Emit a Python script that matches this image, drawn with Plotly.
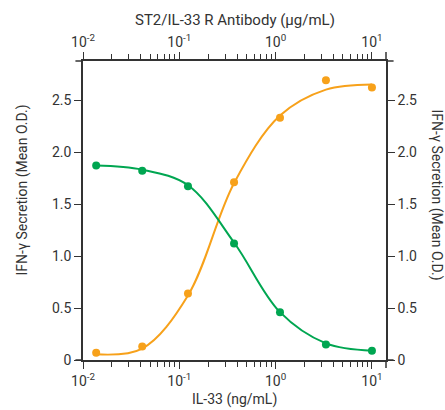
import plotly.graph_objects as go

# ---- data ----
conc = [0.0137, 0.0412, 0.123, 0.370, 1.11, 3.33, 10.0]
antibody_od = [1.87, 1.82, 1.67, 1.12, 0.46, 0.15, 0.09]   # green, top axis
il33_od = [0.07, 0.13, 0.64, 1.71, 2.33, 2.69, 2.62]       # orange, bottom axis
antibody_fit = [1.87, 1.83, 1.68, 1.13, 0.46, 0.16, 0.09]
il33_fit = [0.055, 0.11, 0.62, 1.70, 2.35, 2.60, 2.65]

decade_vals = [0.01, 0.1, 1, 10]
decade_text = ["10<sup>-2</sup>", "10<sup>-1</sup>", "10<sup>0</sup>", "10<sup>1</sup>"]
minor_vals = [m * d for d in [0.01, 0.1, 1, 10] for m in range(2, 10) if m * d < 14]
y_vals = [0, 0.5, 1.0, 1.5, 2.0, 2.5]
y_text = ["0", "0.5", "1.0", "1.5", "2.0", "2.5"]

GREEN = "#00A651"
ORANGE = "#F7A11A"
INK = "#333333"
FONT = "Roboto"

fig = go.Figure()
fig.add_trace(go.Scatter(x=conc, y=antibody_fit, mode="lines", line=dict(color=GREEN, width=2, shape="spline", smoothing=1.0),
                         xaxis="x2", yaxis="y", hoverinfo="skip"))
fig.add_trace(go.Scatter(x=conc, y=antibody_od, mode="markers", marker=dict(color=GREEN, size=8),
                         xaxis="x2", yaxis="y"))
fig.add_trace(go.Scatter(x=conc, y=il33_fit, mode="lines", line=dict(color=ORANGE, width=2, shape="spline", smoothing=1.0),
                         xaxis="x", yaxis="y", hoverinfo="skip"))
fig.add_trace(go.Scatter(x=conc, y=il33_od, mode="markers", marker=dict(color=ORANGE, size=8),
                         xaxis="x", yaxis="y"))
fig.add_trace(go.Scatter(x=[conc[0]], y=[0], mode="markers", marker=dict(opacity=0), xaxis="x", yaxis="y2", hoverinfo="skip"))

xr = [-2, 1.146]
yr = [0, 2.875]
axis_common = dict(showline=True, linecolor=INK, linewidth=1.5, showgrid=False, zeroline=False,
                   ticks="outside", tickcolor=INK, tickwidth=1, mirror=False, automargin=False,
                   tickfont=dict(family=FONT, size=14, color=INK))
minor_cfg = dict(ticks="outside", ticklen=5, tickcolor=INK, tickwidth=1, showgrid=False, tickvals=minor_vals)

fig.update_layout(
    width=445, height=410, margin=dict(l=83, r=59, t=61, b=50),
    paper_bgcolor="white", plot_bgcolor="white", showlegend=False,
    font=dict(family=FONT, color=INK),
    xaxis=dict(type="log", range=xr, tickvals=decade_vals, ticktext=decade_text, ticklen=7,
               minor=minor_cfg, anchor="y", **axis_common),
    xaxis2=dict(type="log", range=xr, tickvals=decade_vals, ticktext=decade_text, ticklen=7, side="top",
                overlaying="x", anchor="y", minor=minor_cfg, **axis_common),
    yaxis=dict(range=yr, tickvals=y_vals, ticktext=y_text, ticklen=7, anchor="x", **axis_common),
    yaxis2=dict(range=yr, tickvals=y_vals, ticktext=y_text, ticklen=7, side="right", overlaying="y", anchor="x", **axis_common),
    shapes=[
        dict(type="line", xref="paper", yref="paper", x0=-0.025, x1=0, y0=1, y1=1, line=dict(color=INK, width=1.5)),
        dict(type="line", xref="paper", yref="paper", x0=1, x1=1.025, y0=1, y1=1, line=dict(color=INK, width=1.5)),
        dict(type="line", xref="paper", yref="paper", x0=1, x1=1, y0=1, y1=1.03, line=dict(color=INK, width=1.5)),
        dict(type="line", xref="paper", yref="paper", x0=1, x1=1, y0=0, y1=-0.027, line=dict(color=INK, width=1.5)),
        dict(type="line", xref="paper", yref="paper", x0=-0.025, x1=0, y0=0, y1=0, line=dict(color=INK, width=1.5)),
        dict(type="line", xref="paper", yref="paper", x0=1, x1=1.025, y0=0, y1=0, line=dict(color=INK, width=1.5)),
    ],
    annotations=[
        dict(text="ST2/IL-33 R Antibody (µg/mL)", xref="paper", yref="paper", x=0.5, y=1, yshift=41,
             showarrow=False, font=dict(family=FONT, size=15, color=INK), xanchor="center", yanchor="middle"),
        dict(text="IL-33 (ng/mL)", xref="paper", yref="paper", x=0.5, y=0, yshift=-39,
             showarrow=False, font=dict(family=FONT, size=14, color=INK), xanchor="center", yanchor="middle"),
        dict(text="IFN-γ Secretion (Mean O.D.)", xref="paper", yref="paper", x=0, xshift=-61, y=0.5, yshift=20,
             textangle=-90, showarrow=False, font=dict(family=FONT, size=14, color=INK), xanchor="center", yanchor="middle"),
        dict(text="IFN-γ Secretion (Mean O.D.)", xref="paper", yref="paper", x=1, xshift=50, y=0.5, yshift=16,
             textangle=90, showarrow=False, font=dict(family=FONT, size=14, color=INK), xanchor="center", yanchor="middle"),
    ],
)

fig.write_html("out.html", config={"displayModeBar": False},
               post_script="document.body.style.margin='0';document.body.style.overflow='hidden';")
